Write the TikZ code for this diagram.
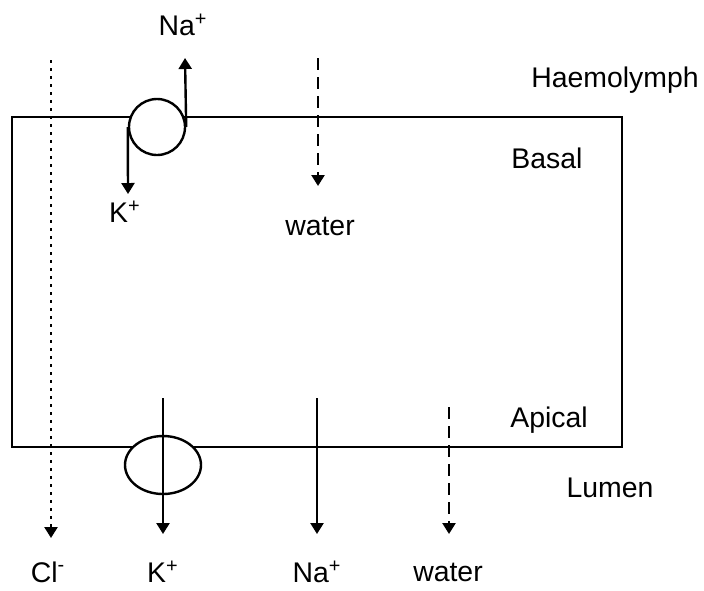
\documentclass[tikz,border=0pt]{standalone}
\usepackage{fontspec}
\setmainfont{Liberation Sans}
\usetikzlibrary{arrows.meta,shapes.geometric}

\begin{document}
\begin{tikzpicture}[x=0.5pt,y=-0.5pt,>={Triangle[length=5.5pt,width=6.5pt]},
  line width=1.2pt,font=\fontsize{14.2}{17}\selectfont,
  lbl/.style={inner sep=0pt,anchor=center},
  flux/.style={->},
  wflux/.style={->,dash pattern=on 6pt off 3.5pt},
  dflux/.style={->,dash pattern=on 1.6pt off 2.4pt}]
\useasboundingbox (0,0) rectangle (704,590);
% cell outline
\coordinate (nw) at (12,117);
\coordinate (se) at (622,447);
\draw (nw) rectangle (se);
% pumps
\node[draw,circle,fill=white,minimum size=28pt,inner sep=0pt] (pumpB) at (157,127) {};
\node[draw,ellipse,fill=white,minimum width=38pt,minimum height=29pt,inner sep=0pt] (pumpA) at (163,465) {};
% labels
\node[lbl] (naTop) at (183,25) {Na\textsuperscript{+}};
\node[lbl] (kTop) at (125,212) {K\textsuperscript{+}};
\node[lbl] (wTop) at (320,226) {water};
\node[lbl] (haem) at (615,80) {Haemolymph};
\node[lbl] (basal) at (547,158) {Basal};
\node[lbl] (apical) at (549,420) {Apical};
\node[lbl] (lumen) at (610,488) {Lumen};
\node[lbl] (cl) at (48,572) {Cl\textsuperscript{-}};
\node[lbl] (kBot) at (163,572) {K\textsuperscript{+}};
\node[lbl] (naBot) at (317,572) {Na\textsuperscript{+}};
\node[lbl] (wBot) at (448,572) {water};
% free ends
\coordinate (clS) at (51,60);
\coordinate (clE) at (51,538);
\coordinate (naE) at (185,58);
\coordinate (kE) at (128,194);
\coordinate (wS) at (318,58);
\coordinate (wE) at (318,186);
\coordinate (kS) at (163,398);
\coordinate (kBE) at (163,534);
\coordinate (naS) at (317,398);
\coordinate (naBE) at (317,534);
\coordinate (wBS) at (449,407);
\coordinate (wBE) at (449,534);
% fluxes
\draw[dflux] (clS) -- (clE);
\draw[flux] (pumpB.east) -- (naE);
\draw[flux] (pumpB.west) -- (kE);
\draw[wflux] (wS) -- (wE);
\draw[flux] (kS) -- (kBE);
\draw[flux] (naS) -- (naBE);
\draw[wflux] (wBS) -- (wBE);
\end{tikzpicture}
\end{document}
